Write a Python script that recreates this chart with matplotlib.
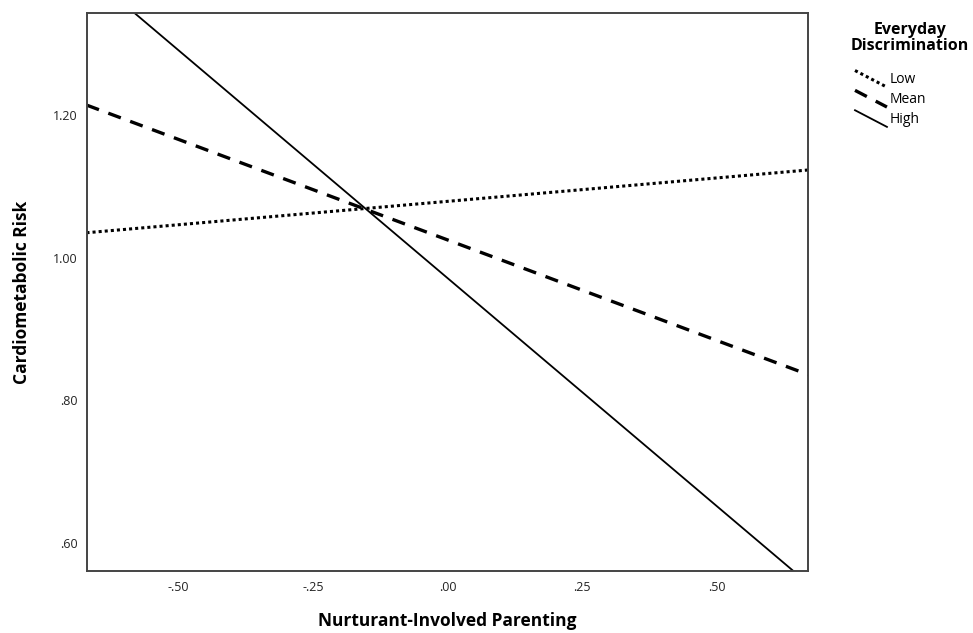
import matplotlib
matplotlib.use("Agg")
import matplotlib.pyplot as plt
from matplotlib.legend_handler import HandlerLine2D
from matplotlib.lines import Line2D

# Donnees (extremites des droites de regression)
parenting = [-0.67, 0.67]
risk_low = [1.035, 1.123]
risk_mean = [1.214, 0.836]
risk_high = [1.400, 0.543]

xticks = [-0.50, -0.25, 0.00, 0.25, 0.50]
xtick_labels = ['-.50', '-.25', '.00', '.25', '.50']
yticks = [0.60, 0.80, 1.00, 1.20]
ytick_labels = ['.60', '.80', '1.00', '1.20']


# poignees de legende en diagonale, comme SPSS
class HandlerDiagonal(HandlerLine2D):
    def create_artists(self, legend, orig_handle, xdescent, ydescent,
                       width, height, fontsize, trans):
        line = Line2D([-xdescent, width - xdescent],
                      [height - ydescent + 2, -ydescent - 3])
        self.update_prop(line, orig_handle, legend)
        line.set_transform(trans)
        return [line]


plt.rcParams['font.family'] = ['Open Sans', 'DejaVu Sans']

fig = plt.figure(figsize=(9.73, 6.33), dpi=100)
ax = fig.add_axes([0.0894, 0.098, 0.7410, 0.8815])

ax.plot(parenting, risk_low, color='black', linestyle=(0, (1, 1)), linewidth=2.2, label='Low')
ax.plot(parenting, risk_mean, color='black', linestyle=(0, (4, 3)), linewidth=2.4, label='Mean')
ax.plot(parenting, risk_high, color='black', linestyle='-', linewidth=1.3, label='High')

ax.set_xlim(-0.669, 0.669)
ax.set_ylim(0.561, 1.343)
ax.set_xticks(xticks)
ax.set_xticklabels(xtick_labels)
ax.set_yticks(yticks)
ax.set_yticklabels(ytick_labels)
ax.tick_params(length=0, labelsize=9, pad=7, colors='#222222')

for s in ax.spines.values():
    s.set_color('#444444')
    s.set_linewidth(1.4)

ax.set_xlabel('Nurturant-Involved Parenting', fontsize=12.5, fontweight='bold')
ax.set_ylabel('Cardiometabolic Risk', fontsize=12.5, fontweight='bold')
ax.xaxis.label.set_va('center')
ax.yaxis.label.set_va('center')
ax.xaxis.set_label_coords(0.5, -0.0896)
ax.yaxis.set_label_coords(-0.090, 0.5)

# titre de la legende a part pour mieux placer les entrees
fig.text(910 / 973, 1 - 38 / 633, 'Everyday\nDiscrimination', ha='center', va='center',
         fontsize=11.5, fontweight='bold', linespacing=1.0)

leg = fig.legend(loc='upper left', bbox_to_anchor=(855 / 973, 1 - 72 / 633),
                 frameon=False, fontsize=10, borderpad=0, borderaxespad=0,
                 handlelength=2.3, handletextpad=0.2, labelspacing=0.35,
                 handler_map={Line2D: HandlerDiagonal()})

fig.savefig('out.png', dpi=100)
